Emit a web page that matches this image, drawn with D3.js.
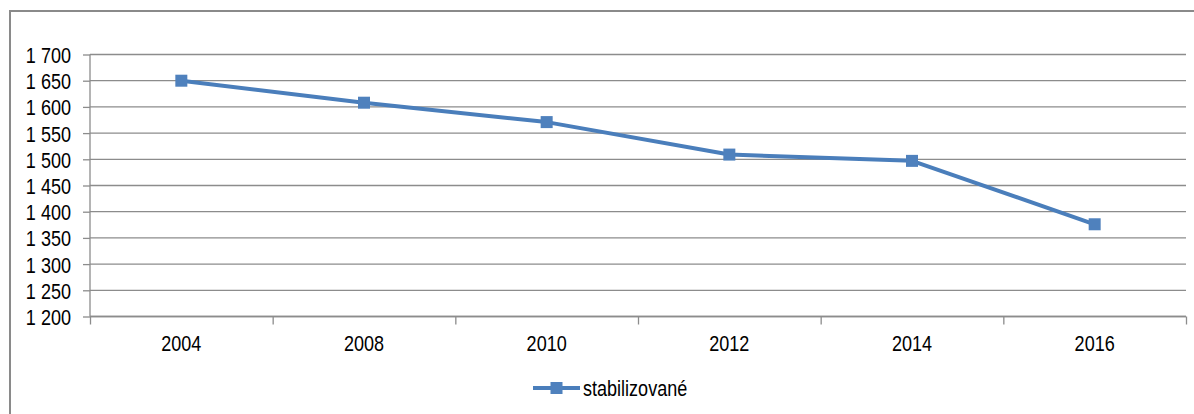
<!DOCTYPE html>
<html>
<head>
<meta charset="utf-8">
<script src="https://cdn.jsdelivr.net/npm/d3@7"></script>
<style>
  body { margin: 0; background: #fff; }
  svg { display: block; }
  text { font-family: "Liberation Sans", Arial, sans-serif; font-size: 22px; fill: #000; }
</style>
</head>
<body>
<svg></svg>
<script>
// data
const years = ['2004', '2008', '2010', '2012', '2014', '2016'];
const stabilizovane = [1650, 1608, 1571, 1509, 1497, 1376];
const yTicks = [1200, 1250, 1300, 1350, 1400, 1450, 1500, 1550, 1600, 1650, 1700];
const seriesName = 'stabilizované';

let width = 1194;
let height = 414;
let plotLeft = 90, plotRight = 1186, plotTop = 54.5, plotBottom = 316.5;

const svg = d3.select('svg').attr('width', width).attr('height', height);

// the reference uses a narrow font: squeeze regular Liberation Sans instead
const narrow = (sel) => {
  sel.each(function() {
    const t = d3.select(this);
    const x = +t.attr('x') || 0, y = +t.attr('y') || 0;
    t.attr('x', 0).attr('y', 0)
      .attr('transform', 'translate(' + x + ',' + y + ') scale(0.82,1)');
  });
};

// outer frame (runs off the right and bottom edge)
svg.append('rect')
  .attr('x', 10).attr('y', 11)
  .attr('width', 1300).attr('height', 500)
  .attr('fill', 'none').attr('stroke', '#8a8a8a').attr('stroke-width', 2);

const fmt = d3.formatLocale({decimal: ',', thousands: ' ', grouping: [3]}).format(',');

const xScale = d3.scaleBand().domain(years).range([plotLeft, plotRight]);
const xEdges = d3.scaleLinear().domain([0, years.length]).range([plotLeft, plotRight]);
const yScale = d3.scaleLinear().domain([1200, 1700]).range([plotBottom, plotTop]);

// gridlines
svg.append('g')
  .selectAll('line').data(yTicks).enter().append('line')
  .attr('x1', plotLeft).attr('x2', plotRight)
  .attr('y1', d => yScale(d)).attr('y2', d => yScale(d))
  .attr('stroke', '#8c8c8c').attr('stroke-width', 1.3);

// y axis
const yAxis = d3.axisLeft(yScale).tickValues(yTicks).tickFormat(fmt).tickSize(7).tickPadding(12);
const gy = svg.append('g').attr('transform', 'translate(' + plotLeft + ',0)').call(yAxis);
gy.select('.domain').remove();
gy.append('line').attr('x1', 0).attr('x2', 0).attr('y1', plotTop).attr('y2', plotBottom)
  .attr('stroke', '#8c8c8c').attr('stroke-width', 1.3);
gy.selectAll('.tick line').attr('stroke', '#8c8c8c').attr('stroke-width', 1.3);
gy.selectAll('text').attr('dy', '0.36em').call(narrow);

// x axis: boundary ticks + centred labels
const xAxisTicks = d3.axisBottom(xEdges).tickValues(d3.range(years.length + 1)).tickSize(8).tickFormat('');
const gx = svg.append('g').attr('transform', 'translate(0,' + plotBottom + ')').call(xAxisTicks);
gx.select('.domain').remove();
gx.selectAll('.tick line').attr('stroke', '#8c8c8c').attr('stroke-width', 1.3);
gx.append('line').attr('x1', plotLeft).attr('x2', plotRight).attr('stroke', '#8c8c8c').attr('stroke-width', 1.3);

const xAxisLabels = d3.axisBottom(xScale).tickSize(0).tickPadding(19);
const gxl = svg.append('g').attr('transform', 'translate(0,' + plotBottom + ')').call(xAxisLabels);
gxl.select('.domain').remove();
gxl.selectAll('text').call(narrow);

// series line
const line = d3.line()
  .x((d, i) => xScale(years[i]) + xScale.bandwidth() / 2)
  .y(d => yScale(d));

svg.append('path').datum(stabilizovane)
  .attr('d', line)
  .attr('fill', 'none')
  .attr('stroke', '#4a7ebb')
  .attr('stroke-width', 4)
  .attr('stroke-linejoin', 'round');

svg.selectAll('rect.marker').data(stabilizovane).enter().append('rect')
  .attr('class', 'marker')
  .attr('x', (d, i) => xScale(years[i]) + xScale.bandwidth() / 2 - 6)
  .attr('y', d => yScale(d) - 6)
  .attr('width', 12).attr('height', 12)
  .attr('fill', '#4f81bd');

// legend
const lg = svg.append('g').attr('transform', 'translate(533,388)');
lg.append('line').attr('x1', 0).attr('x2', 47).attr('stroke', '#4a7ebb').attr('stroke-width', 4);
lg.append('rect').attr('x', 17.5).attr('y', -6).attr('width', 12).attr('height', 12).attr('fill', '#4f81bd');
lg.append('text').attr('x', 50).attr('dy', '0.36em').text(seriesName).call(narrow);
</script>
</body>
</html>
